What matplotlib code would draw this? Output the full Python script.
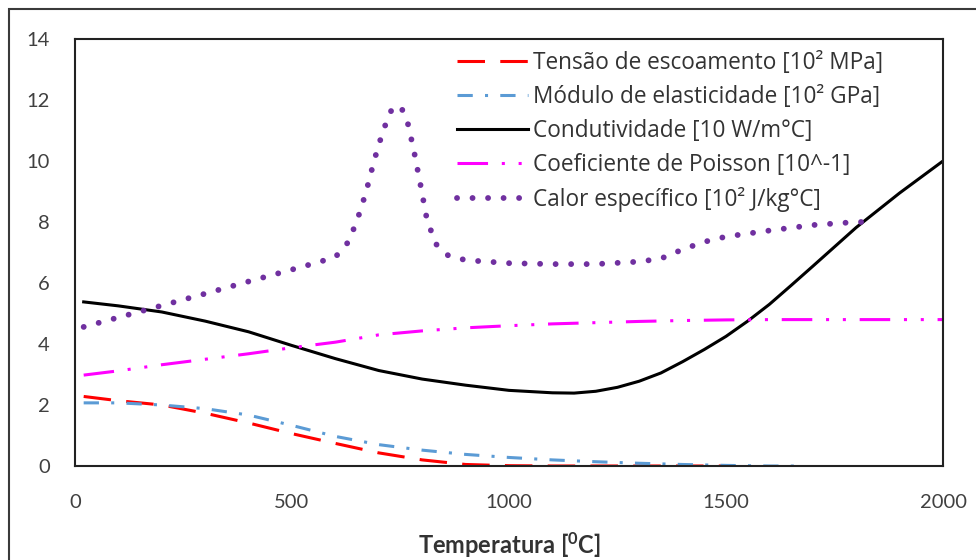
import matplotlib.pyplot as plt
from matplotlib.patches import Rectangle

plt.rcParams["font.family"] = ["Lato", "DejaVu Sans"]

# temperatura [°C] and the five curves
temp_tensao = [20, 100, 200, 300, 400, 500, 600, 700, 800, 900, 1000, 1100, 1200, 1300, 1400, 1500]
tensao = [2.28, 2.14, 2.0, 1.73, 1.41, 1.06, 0.74, 0.43, 0.2, 0.05, 0.01, 0, 0, 0, 0, 0]

temp_modulo = [20, 100, 200, 300, 400, 500, 600, 700, 800, 900, 1000, 1100, 1200, 1300,
               1400, 1500, 1600, 1660]
modulo = [2.07, 2.07, 2.0, 1.88, 1.67, 1.33, 0.97, 0.7, 0.52, 0.38, 0.28, 0.2, 0.14, 0.09,
          0.05, 0.02, 0.0, 0.0]

temp_cond = [20, 100, 200, 300, 400, 500, 600, 700, 800, 900, 1000, 1100, 1150, 1200, 1250,
             1300, 1350, 1400, 1450, 1500, 1550, 1600, 1650, 1700, 1800, 1900, 2000]
condutividade = [5.38, 5.25, 5.05, 4.75, 4.4, 3.95, 3.52, 3.13, 2.85, 2.65, 2.48, 2.4, 2.39,
                 2.45, 2.58, 2.78, 3.05, 3.42, 3.82, 4.25, 4.75, 5.3, 5.92, 6.55, 7.82, 8.95,
                 10.0]

temp_poisson = [20, 100, 200, 300, 400, 500, 600, 700, 800, 900, 1000, 1100, 1200, 1300,
                1400, 1500, 1600, 1800, 2000]
poisson = [2.98, 3.12, 3.32, 3.5, 3.68, 3.88, 4.06, 4.3, 4.43, 4.53, 4.6, 4.66, 4.7, 4.74,
           4.77, 4.79, 4.8, 4.8, 4.8]

temp_calor = [20, 100, 200, 300, 400, 500, 560, 600, 630, 650, 670, 690, 710, 730, 750, 765,
              780, 795, 810, 830, 860, 900, 1000, 1100, 1200, 1300, 1350, 1400, 1450, 1500,
              1600, 1700, 1800, 1820]
calor = [4.56, 4.87, 5.26, 5.65, 6.05, 6.44, 6.68, 6.85, 7.35, 8.05, 8.95, 10.05, 11.0, 11.7,
         11.8, 11.35, 10.4, 9.3, 8.15, 7.3, 6.9, 6.75, 6.65, 6.62, 6.62, 6.7, 6.8, 7.1, 7.35,
         7.52, 7.72, 7.9, 8.0, 8.0]

fig = plt.figure(figsize=(9.76, 5.6), dpi=100)
ax = fig.add_axes([75 / 976, 94 / 560, 868 / 976, 427 / 560])

# outer chart frame (cut by the image on the right and bottom)
fig.patches.append(Rectangle((9 / 976, -0.1), 2, (551 / 560) + 0.1, transform=fig.transFigure,
                             fill=False, edgecolor="#3a3a3a", linewidth=1.5))

ax.plot(temp_tensao, tensao, color="#FF0000", lw=2.2, linestyle=(0, (9, 5)),
        label="Tensão de escoamento [10² MPa]")
ax.plot(temp_modulo, modulo, color="#5B9BD5", lw=2.2, linestyle=(0, (5, 4, 1, 4)),
        label="Módulo de elasticidade [10² GPa]")
ax.plot(temp_cond, condutividade, color="black", lw=2.2,
        label="Condutividade [10 W/m°C]")
ax.plot(temp_poisson, poisson, color="#FF00FF", lw=2.2,
        linestyle=(0, (10, 4.5, 1, 4.5, 1, 4.5)),
        label="Coeficiente de Poisson [10^-1]")
ax.plot(temp_calor, calor, color="#7030A0", lw=4.2, linestyle=(0, (0.01, 2.65)),
        dash_capstyle="round", label="Calor específico [10² J/kg°C]")

ax.set_xlim(0, 2000)
ax.set_ylim(0, 14)
ax.set_xticks([0, 500, 1000, 1500, 2000])
ax.set_yticks(range(0, 15, 2))
ax.tick_params(length=0, labelsize=14.5, colors="#404040")
ax.tick_params(axis="y", pad=18)
ax.tick_params(axis="x", pad=20)
for s in ax.spines.values():
    s.set_linewidth(1.5)
    s.set_color("#222222")

ax.set_xlabel(r"Temperatura [$\mathregular{^0}$C]", fontsize=17, fontweight="bold",
              color="#333333", labelpad=14)

ax.legend(loc="upper left", bbox_to_anchor=(0.427, 0.998), frameon=False,
          prop={"family": "Open Sans", "size": 16.3},
          handlelength=3.15, handletextpad=0.22, labelspacing=0.44, borderpad=0,
          labelcolor="#333333")

fig.savefig("out.png", dpi=100)
